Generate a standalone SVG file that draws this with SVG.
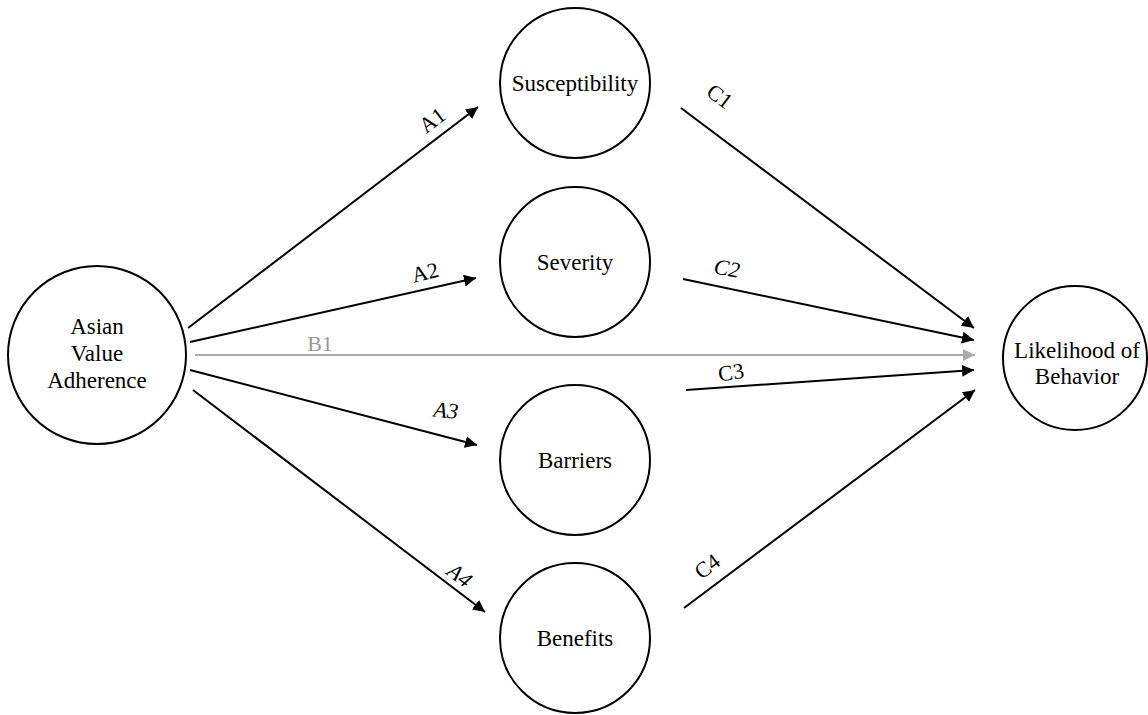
<svg xmlns="http://www.w3.org/2000/svg" width="1148" height="715" viewBox="0 0 1148 715">
  <style>
    .node { fill: #fff; stroke: #000; stroke-width: 2; }
    .ntext { font-family: "Liberation Serif", "Times New Roman", serif; font-size: 23px; text-anchor: middle; fill: #000; }
    .edge { stroke: #000; stroke-width: 2; fill: none; marker-end: url(#arrow); }
    .edge-gray { stroke: #aaa; stroke-width: 2; fill: none; marker-end: url(#arrowGray); }
    .elabel { font-family: "Liberation Serif", "Times New Roman", serif; font-size: 22px; text-anchor: middle; fill: #000; }
    .elabel-gray { font-family: "Liberation Serif", "Times New Roman", serif; font-size: 22px; text-anchor: middle; fill: #999; }
  </style>
  <defs>
    <marker id="arrow" viewBox="0 0 10 10" refX="10" refY="5" markerWidth="6" markerHeight="6" markerUnits="strokeWidth" orient="auto">
      <path d="M0,0 L10,5 L0,10 z" fill="#000"/>
    </marker>
    <marker id="arrowGray" viewBox="0 0 10 10" refX="10" refY="5" markerWidth="6" markerHeight="6" markerUnits="strokeWidth" orient="auto">
      <path d="M0,0 L10,5 L0,10 z" fill="#aaa"/>
    </marker>
  </defs>
  <rect width="1148" height="715" fill="#fff"/>

  <g id="connectors">
    <line class="edge" x1="188" y1="328" x2="478" y2="107"/>
    <line class="edge" x1="190" y1="342" x2="476" y2="278"/>
    <line class="edge-gray" x1="195" y1="355" x2="975" y2="355"/>
    <line class="edge" x1="190" y1="370" x2="477" y2="445"/>
    <line class="edge" x1="193" y1="390" x2="485" y2="612"/>
    <line class="edge" x1="681" y1="108" x2="974" y2="328"/>
    <line class="edge" x1="683" y1="279" x2="974" y2="340"/>
    <line class="edge" x1="686" y1="390" x2="974" y2="370"/>
    <line class="edge" x1="684" y1="608" x2="975" y2="390"/>

    <text class="elabel" dy="0.35em" transform="translate(432,120) rotate(-37)">A1</text>
    <text class="elabel" dy="0.35em" transform="translate(425,272) rotate(-14)">A2</text>
    <text class="elabel-gray" dy="0.35em" x="320" y="343">B1</text>
    <text class="elabel" dy="0.35em" font-style="italic" transform="translate(446,410) rotate(6)">A3</text>
    <text class="elabel" dy="0.35em" font-style="italic" transform="translate(460,575) rotate(37)">A4</text>
    <text class="elabel" dy="0.35em" transform="translate(720,96) rotate(37)">C1</text>
    <text class="elabel" dy="0.35em" font-style="italic" transform="translate(727,268) rotate(10)">C2</text>
    <text class="elabel" dy="0.35em" transform="translate(731,372) rotate(-8)">C3</text>
    <text class="elabel" dy="0.35em" transform="translate(707,566) rotate(-37)">C4</text>
  </g>

  <g id="asian-value-adherence">
    <circle class="node" cx="97" cy="355" r="89"/>
    <text class="ntext" x="97" y="334">Asian</text>
    <text class="ntext" x="97" y="361">Value</text>
    <text class="ntext" x="97" y="388">Adherence</text>
  </g>
  <g id="susceptibility">
    <circle class="node" cx="575" cy="83" r="75"/>
    <text class="ntext" x="575" y="91">Susceptibility</text>
  </g>
  <g id="severity">
    <circle class="node" cx="575" cy="262" r="75"/>
    <text class="ntext" x="575" y="270">Severity</text>
  </g>
  <g id="barriers">
    <circle class="node" cx="575" cy="460" r="75"/>
    <text class="ntext" x="575" y="468">Barriers</text>
  </g>
  <g id="benefits">
    <circle class="node" cx="575" cy="638" r="75"/>
    <text class="ntext" x="575" y="646">Benefits</text>
  </g>
  <g id="likelihood-of-behavior">
    <circle class="node" cx="1075" cy="358" r="72"/>
    <text class="ntext" x="1077" y="358">Likelihood of</text>
    <text class="ntext" x="1077" y="384">Behavior</text>
  </g>
</svg>
